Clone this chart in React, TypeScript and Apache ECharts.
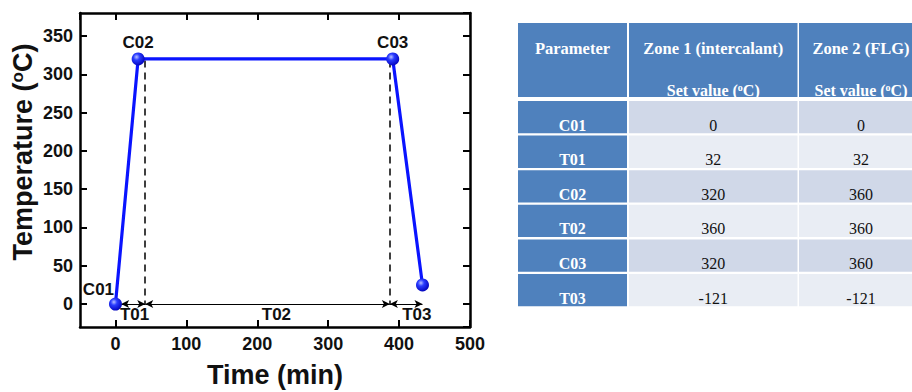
import React, { useEffect, useRef } from 'react';
import * as echarts from 'echarts';

// ---- chart data ----
const timeData = [0, 32, 391, 433];
const tempData = [0, 320, 320, 25];
const pointLabels = ['C01', 'C02', 'C03', ''];
const dashedX = [42, 387];
const dashedTop = 318;
const stepStart = [8, 42, 387];
const stepEnd = [42, 387, 433];
const stepLabels = ['T01', 'T02', 'T03'];
const stepLabelX = [27, 227, 425];
const stepLabelY = -14;

// ---- table data ----
const tableHeaders = ['Parameter', 'Zone 1 (intercalant)', 'Zone 2 (FLG)'];
const tableSubHeaders = ['', 'Set value ({sup|o}C)', 'Set value ({sup|o}C)'];
const tableParams = ['C01', 'T01', 'C02', 'T02', 'C03', 'T03'];
const zone1Values = ['0', '32', '320', '360', '320', '-121'];
const zone2Values = ['0', '32', '360', '360', '360', '-121'];

const SANS = 'Liberation Sans, Arial, sans-serif';
const SERIF = 'Liberation Serif, Times New Roman, serif';

function buildTable(): any[] {
  const colX = [518, 629, 799];
  const colW = [109, 168.5, 124];
  const headTop = 23;
  const headH = 74;
  const rowTop0 = 101;
  const rowStep = 34.6;
  const rowH = 32.3;
  const blue = '#4f81bd';
  const odd = '#d0d8e8';
  const even = '#e9edf4';
  const els: any[] = [];
  const sup = { sup: { fontSize: 10, fontWeight: 'bold', fontFamily: SERIF, fill: '#fff', verticalAlign: 'top', lineHeight: 12 } } as any;
  for (let c = 0; c < 3; c++) {
    els.push({ type: 'rect', shape: { x: colX[c], y: headTop, width: colW[c], height: headH }, style: { fill: blue } });
    els.push({
      type: 'text', x: colX[c] + colW[c] / 2, y: 48,
      style: { text: tableHeaders[c], fill: '#fff', font: `bold 16.5px ${SERIF}`, align: 'center', verticalAlign: 'middle' },
    });
    if (tableSubHeaders[c]) {
      els.push({
        type: 'text', x: colX[c] + colW[c] / 2, y: 90,
        style: { text: tableSubHeaders[c], fill: '#fff', fontSize: 16, fontWeight: 'bold', fontFamily: SERIF, align: 'center', verticalAlign: 'middle', rich: sup },
      });
    }
  }
  const cols = [tableParams, zone1Values, zone2Values];
  for (let r = 0; r < tableParams.length; r++) {
    const top = rowTop0 + r * rowStep;
    for (let c = 0; c < 3; c++) {
      const fill = c === 0 ? blue : r % 2 === 0 ? odd : even;
      els.push({ type: 'rect', shape: { x: colX[c], y: top, width: colW[c], height: rowH }, style: { fill } });
      els.push({
        type: 'text', x: colX[c] + colW[c] / 2, y: top + 24,
        style: {
          text: cols[c][r], fill: c === 0 ? '#fff' : '#111',
          font: `${c === 0 ? 'bold ' : ''}16px ${SERIF}`, align: 'center', verticalAlign: 'middle',
        },
      });
    }
  }
  return els;
}

const mkLine = () => ({ show: true, onZero: false, lineStyle: { color: '#000', width: 2.5 } });
const mkTick = () => ({ show: true, inside: true, length: 7, lineStyle: { color: '#000', width: 2 } });
const mkLabel = () => ({ fontSize: 18, fontWeight: 'bold', color: '#111', fontFamily: SANS });

export default function App() {
  const ref = useRef<HTMLDivElement>(null);
  useEffect(() => {
    const chart = echarts.init(ref.current!, null, { renderer: 'svg' });
    const option: any = {
      animation: false,
      backgroundColor: '#fff',
      grid: { left: 80, top: 13, width: 390, height: 314, containLabel: false, outerBoundsMode: 'none' },
      xAxis: [
        {
          type: 'value', min: -50, max: 500, splitNumber: 5, position: 'bottom',
          axisLine: mkLine(), axisTick: mkTick(), splitLine: { show: false },
          axisLabel: { ...mkLabel(), margin: 8, showMinLabel: false },
          name: 'Time (min)', nameLocation: 'middle', nameGap: 34,
          nameTextStyle: { fontSize: 27, fontWeight: 'bold', color: '#111', fontFamily: SANS },
        },
        {
          type: 'value', min: -50, max: 500, splitNumber: 5, position: 'top',
          axisLine: mkLine(), axisTick: mkTick(), splitLine: { show: false }, axisLabel: { show: false },
        },
      ],
      yAxis: [
        {
          type: 'value', min: -30, max: 380, splitNumber: 8, position: 'left',
          axisLine: mkLine(), axisTick: mkTick(), splitLine: { show: false },
          axisLabel: { ...mkLabel(), margin: 7, showMinLabel: false, showMaxLabel: false },
          name: 'Temperature ({sup|o}C)', nameLocation: 'middle', nameGap: 44,
          nameTextStyle: {
            fontSize: 27, fontWeight: 'bold', color: '#111', fontFamily: SANS, padding: [0, 0, 0, 36],
            rich: { sup: { fontSize: 17, fontWeight: 'bold', color: '#111', fontFamily: SANS, verticalAlign: 'top', lineHeight: 16 } },
          },
        },
        {
          type: 'value', min: -30, max: 380, splitNumber: 8, position: 'right',
          axisLine: mkLine(), axisTick: mkTick(), splitLine: { show: false }, axisLabel: { show: false },
        },
      ],
      graphic: buildTable(),
      series: [
        {
          type: 'line', name: 'dashed', data: [], silent: true, z: 1,
          markLine: {
            silent: true, symbol: ['none', 'none'], label: { show: false },
            lineStyle: { color: '#000', width: 1.5, type: [7, 5] },
            data: dashedX.map((x) => [{ coord: [x, dashedTop] }, { coord: [x, 0] }]),
          },
        },
        {
          type: 'line', name: 'arrows', data: [], silent: true, z: 1,
          markLine: {
            silent: true, symbol: ['arrow', 'arrow'], symbolSize: [6, 8], label: { show: false },
            lineStyle: { color: '#000', width: 1, type: 'solid' },
            data: stepStart.map((s, i) => [{ coord: [s, 0] }, { coord: [stepEnd[i], 0] }]),
          },
        },
        {
          type: 'line', name: 'profile', z: 5,
          data: timeData.map((t, i) => ({
            value: [t, tempData[i]], name: pointLabels[i],
            label: i === 0 ? { position: 'top', offset: [-17, 0], distance: 0 } : { position: 'top', distance: 1 },
          })),
          lineStyle: { color: '#0a14ff', width: 3.2 },
          symbol: 'circle', symbolSize: 13, showAllSymbol: true,
          itemStyle: {
            color: {
              type: 'radial', x: 0.38, y: 0.35, r: 0.7,
              colorStops: [
                { offset: 0, color: '#b8c0ff' },
                { offset: 0.35, color: '#2a3cff' },
                { offset: 1, color: '#0000b8' },
              ],
            },
            borderWidth: 0,
          },
          label: { show: true, formatter: '{b}', fontSize: 17, fontWeight: 'bold', color: '#111', fontFamily: SANS },
        },
      ],
    };
    chart.setOption(option);
    // step labels placed through the chart's own scales
    const stepTexts = stepLabels.map((t, i) => {
      const [px, py] = chart.convertToPixel({ xAxisIndex: 0, yAxisIndex: 0 }, [stepLabelX[i], stepLabelY]);
      return {
        type: 'text', x: px, y: py, z: 10,
        style: { text: t, fill: '#111', font: `bold 17px ${SANS}`, align: 'center', verticalAlign: 'middle' },
      };
    });
    chart.setOption({ graphic: [...buildTable(), ...stepTexts] });
    return () => chart.dispose();
  }, []);
  return <div ref={ref} style={{ position: 'fixed', left: 0, top: 0, width: 912, height: 392, background: '#fff' }} />;
}
